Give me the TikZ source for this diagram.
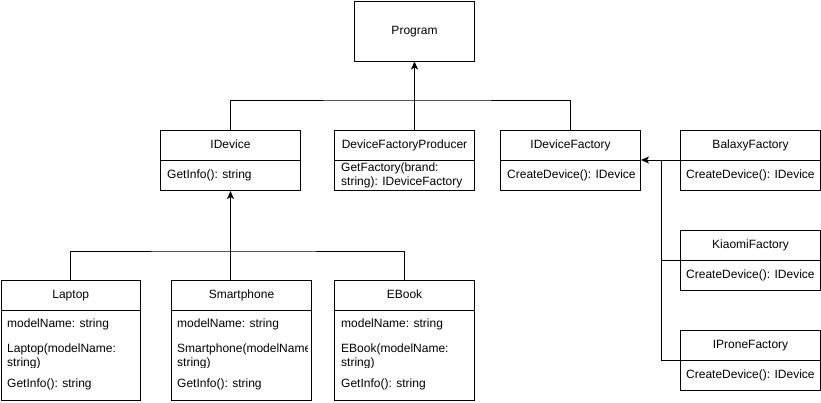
\documentclass[tikz,border=0pt]{standalone}
\usepackage{fontspec}
\setmainfont{Liberation Sans}
\usetikzlibrary{arrows.meta}
\begin{document}
\begin{tikzpicture}[x=1pt,y=-1pt,
  box/.style={draw,line width=1pt,inner sep=0pt,anchor=north west},
  txt/.style={inner sep=0pt,anchor=west,text height=9pt,text depth=3pt,font=\fontsize{12}{14}\selectfont},
  ttl/.style={text height=9pt,text depth=3pt,font=\fontsize{12}{14}\selectfont},
  wide/.style={minimum width=140pt},
  fac/.style={minimum width=140pt},
  hh/.style={minimum height=30pt},
  conn/.style={line width=1pt},
  arr/.style={line width=1pt,-{Stealth[length=8pt,width=7pt,inset=2pt]}}]
\fill[white] (0,0) rectangle (821,402);
\useasboundingbox (0,0) rectangle (821,402);

% Program
\node[box,ttl,minimum width=120pt,minimum height=60pt] (prog) at (354,0.5) {Program};

% IDevice
\node[box,ttl,wide,hh] (idev) at (160,130) {IDevice};
\node[box,wide,hh] (idevb) at (160,160) {};
\node[txt] (idevt) at (167,175) {GetInfo(): string};

% DeviceFactoryProducer
\node[box,ttl,wide,hh] (dfp) at (334,130) {DeviceFactoryProducer};
\node[box,wide,hh] (dfpb) at (334,160) {};
\begin{scope}
\clip (334,160.5) rectangle (474,187);
\node[txt] (dfpt1) at (341,168) {GetFactory(brand:};
\node[txt] (dfpt2) at (341,182) {string): IDeviceFactory};
\end{scope}

% IDeviceFactory
\node[box,ttl,wide,hh] (idf) at (500,130) {IDeviceFactory};
\node[box,wide,hh] (idfb) at (500,160) {};
\node[txt] (idft) at (507,175) {CreateDevice(): IDevice};

% Factories
\node[box,ttl,fac,hh] (bal) at (680,130) {BalaxyFactory};
\node[box,fac,hh] (balb) at (680,160) {};
\node[txt] (balt) at (686,175) {CreateDevice(): IDevice};

\node[box,ttl,fac,hh] (kia) at (680,230) {KiaomiFactory};
\node[box,fac,hh] (kiab) at (680,260) {};
\node[txt] (kiat) at (686,275) {CreateDevice(): IDevice};

\node[box,ttl,fac,hh] (ipr) at (680,330) {IProneFactory};
\node[box,fac,hh] (iprb) at (680,360) {};
\node[txt] (iprt) at (686,375) {CreateDevice(): IDevice};

% Laptop
\node[box,ttl,minimum width=139.5pt,hh] (lap) at (0.5,280) {Laptop};
\node[box,minimum width=139.5pt,minimum height=90pt] (lapb) at (0.5,310) {};
\node[txt] (lapt1) at (7,324.5) {modelName: string};
\begin{scope}
\clip (1,337) rectangle (140,367.5);
\node[txt] (lapt2) at (7,349.5) {Laptop(modelName:};
\node[txt] (lapt3) at (7,363.5) {string)};
\end{scope}
\node[txt] (lapt4) at (7,384) {GetInfo(): string};

% Smartphone
\node[box,ttl,wide,hh] (sma) at (171,280) {Smartphone};
\node[box,wide,minimum height=90pt] (smab) at (171,310) {};
\node[txt] (smat1) at (177,324.5) {modelName: string};
\begin{scope}
\clip (171,337) rectangle (307,367.5);
\node[txt] (smat2) at (177,349.5) {Smartphone(modelName:};
\node[txt] (smat3) at (177,363.5) {string)};
\end{scope}
\node[txt] (smat4) at (177,384) {GetInfo(): string};

% EBook
\node[box,ttl,wide,hh] (ebk) at (334,280) {EBook};
\node[box,wide,minimum height=90pt] (ebkb) at (334,310) {};
\node[txt] (ebkt1) at (341,324.5) {modelName: string};
\begin{scope}
\clip (334,337) rectangle (474,367.5);
\node[txt] (ebkt2) at (341,349.5) {EBook(modelName:};
\node[txt] (ebkt3) at (341,363.5) {string)};
\end{scope}
\node[txt] (ebkt4) at (341,384) {GetInfo(): string};

% connectors top
\coordinate (j1) at (414,100);
\draw[conn] (idev.north) |- (j1) -| (idf.north);
\draw[arr] (dfp.north -| prog.south) -- (prog.south);

% connectors bottom
\coordinate (j2) at (230,251);
\draw[conn] (lap.north) |- (j2) -| (ebk.north);
\draw[arr] (sma.north -| idevb.south) -- (idevb.south);

% connectors right
\coordinate (j3) at (661,160);
\draw[arr] (balb.north west) -- (idfb.north east);
\draw[conn] (kiab.north west) -| (j3);
\draw[conn] (iprb.north west) -| (j3);
\end{tikzpicture}
\end{document}
